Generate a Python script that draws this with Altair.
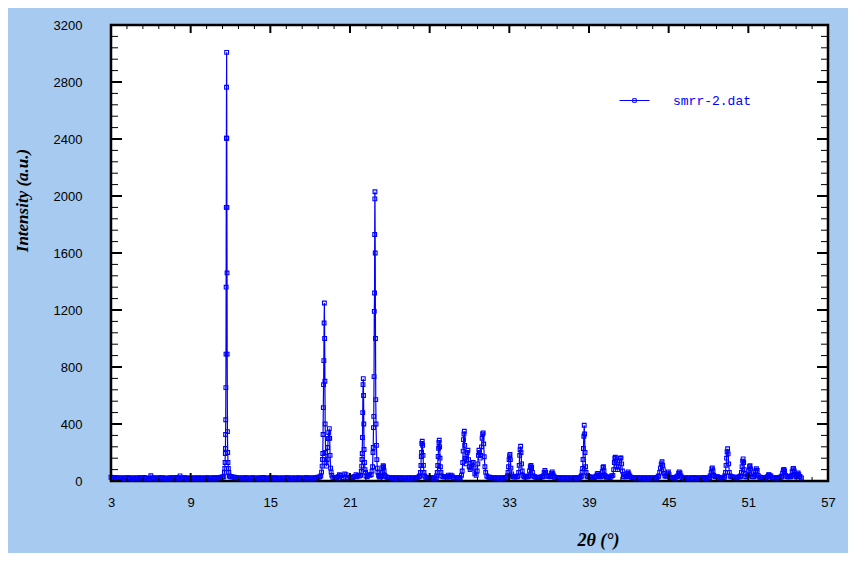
import altair as alt
import pandas as pd

# ---------------- data ----------------
SERIES = "smrr-2.dat"

# baseline scan, 3.0 .. 55.0 deg, every 0.2 deg
BASE_START = 3.0
BASE_STEP = 0.2
BASELINE = [
    26, 22, 19, 24, 20, 18, 23, 21, 19, 22,
    20, 24, 21, 18, 22, 37, 20, 19, 23, 21,
    18, 22, 20, 24, 19, 21, 36, 20, 23, 19,
    22, 20, 18, 23, 21, 19, 24, 20, 22, 21,
    23, 25, 28, 32, 30, 30, 27, 24, 22, 21,
    20, 23, 19, 22, 21, 18, 24, 20, 22, 19,
    21, 19, 23, 20, 22, 18, 21, 24, 19, 22,
    20, 22, 19, 21, 23, 20, 22, 24, 26, 30,
    30, 30, 28, 26, 24, 22, 45, 23, 50, 24,
    25, 24, 28, 40, 30, 30, 35, 45, 40, 30,
    30, 28, 30, 30, 26, 24, 22, 21, 23, 20,
    22, 19, 21, 23, 20, 24, 30, 30, 28, 24,
    21, 23, 20, 25, 30, 30, 30, 26, 41, 24,
    22, 25, 30, 30, 30, 30, 30, 30, 30, 30,
    30, 30, 28, 25, 24, 22, 20, 23, 21, 24,
    30, 30, 28, 30, 30, 30, 28, 30, 30, 30,
    26, 24, 28, 30, 40, 32, 30, 26, 24, 22,
    21, 23, 20, 22, 19, 24, 21, 30, 30, 30,
    30, 26, 24, 28, 30, 30, 30, 28, 24, 40,
    30, 30, 30, 30, 30, 35, 25, 22, 24, 21,
    20, 23, 19, 22, 21, 24, 30, 30, 30, 35,
    28, 25, 23, 30, 30, 24, 20, 22, 19, 23,
    21, 20, 24, 22, 19, 23, 30, 28, 30, 25,
    22, 25, 30, 30, 30, 24, 26, 30, 30, 30,
    30, 30, 30, 30, 28, 24, 22, 26, 40, 24,
    22, 24, 26, 30, 30, 30, 30, 30, 30, 30,
    22,
]
# interleaved baseline scan, 3.1 .. 54.9 deg, every 0.2 deg
BASE_B_START = 3.1
BASELINE_B = [
    18, 25, 21, 17, 23, 20, 24, 19, 22, 20,
    23, 19, 25, 20, 17, 22, 24, 18, 21, 23,
    20, 17, 23, 21, 25, 19, 22, 24, 20, 18,
    19, 24, 21, 17, 22, 20, 23, 18, 24, 20,
    22, 27, 30, 30, 30, 30, 26, 23, 20, 22,
    24, 18, 21, 23, 19, 22, 20, 25, 18, 21,
    20, 23, 18, 22, 19, 24, 21, 17, 22, 20,
    23, 19, 21, 24, 20, 22, 19, 25, 28, 30,
    30, 30, 30, 25, 23, 30, 40, 25, 45, 22,
    27, 30, 35, 35, 30, 30, 30, 40, 35, 30,
    30, 30, 30, 30, 24, 21, 23, 19, 22, 24,
    20, 23, 18, 22, 21, 25, 30, 30, 26, 22,
    24, 19, 22, 21, 30, 30, 30, 28, 35, 22,
    24, 21, 30, 30, 30, 30, 30, 30, 30, 30,
    30, 30, 26, 23, 21, 24, 19, 22, 25, 28,
    30, 30, 30, 30, 30, 30, 30, 26, 30, 30,
    25, 27, 30, 33, 35, 30, 28, 24, 21, 24,
    20, 22, 24, 19, 23, 20, 25, 30, 30, 30,
    28, 24, 30, 30, 30, 30, 30, 26, 35, 30,
    30, 30, 30, 30, 32, 30, 24, 20, 23, 22,
    22, 19, 24, 20, 23, 21, 30, 30, 30, 30,
    26, 24, 21, 30, 28, 22, 23, 20, 24, 21,
    23, 19, 22, 25, 20, 24, 30, 30, 30, 23,
    24, 28, 30, 30, 26, 22, 30, 30, 30, 30,
    30, 30, 30, 30, 26, 23, 20, 30, 35, 22,
    24, 21, 28, 30, 30, 30, 30, 30, 30, 30,
]

# reflections: (2theta, intensity) scan points read around each peak
PEAKS = [
    [(11.50, 30), (11.54, 60), (11.57, 88), (11.59, 130), (11.61, 193), (11.62, 228),
     (11.63, 326), (11.64, 430), (11.65, 655), (11.66, 890), (11.67, 1360), (11.68, 1920),
     (11.69, 2405), (11.70, 2763), (11.71, 3008), (11.72, 2405), (11.73, 1920), (11.74, 1460),
     (11.75, 890), (11.77, 347), (11.79, 200), (11.81, 130), (11.84, 88), (11.87, 60), (11.92, 35)],
    [(18.80, 35), (18.86, 62), (18.90, 104), (18.93, 151), (18.95, 193), (18.97, 326),
     (18.99, 515), (19.01, 676), (19.03, 845), (19.05, 1109), (19.07, 1249), (19.09, 1000),
     (19.11, 700), (19.13, 400), (19.16, 200), (19.20, 130), (19.24, 104), (19.28, 150),
     (19.32, 235), (19.36, 298), (19.40, 340), (19.44, 368), (19.47, 300), (19.50, 180),
     (19.54, 90), (19.58, 62), (19.63, 40)],
    [(21.38, 32), (21.45, 45), (21.52, 30)],
    [(21.80, 40), (21.85, 67), (21.88, 104), (21.90, 151), (21.92, 193), (21.94, 305),
     (21.96, 480), (21.98, 676), (22.00, 718), (22.02, 600), (22.04, 400), (22.06, 221),
     (22.09, 130), (22.13, 80), (22.18, 60)],
    [(22.60, 45), (22.66, 69), (22.70, 100), (22.73, 200), (22.75, 235), (22.77, 375),
     (22.79, 454), (22.81, 733), (22.83, 1190), (22.85, 1319), (22.86, 1730), (22.87, 1980),
     (22.88, 2030), (22.90, 1600), (22.92, 1000), (22.94, 571), (22.96, 400), (22.99, 250),
     (23.02, 150), (23.06, 90), (23.10, 60), (23.15, 40)],
    [(23.38, 35), (23.43, 60), (23.47, 95), (23.50, 108), (23.53, 100), (23.57, 70), (23.62, 40)],
    [(26.25, 35), (26.30, 60), (26.34, 109), (26.37, 172), (26.39, 200), (26.41, 263),
     (26.44, 279), (26.47, 250), (26.50, 180), (26.53, 110), (26.57, 60), (26.62, 35)],
    [(27.52, 35), (27.57, 60), (27.61, 109), (27.64, 172), (27.67, 230), (27.70, 270),
     (27.72, 286), (27.75, 240), (27.78, 160), (27.81, 100), (27.85, 60), (27.90, 35)],
    [(28.33, 30), (28.40, 41), (28.47, 30)],
    [(29.40, 40), (29.45, 70), (29.49, 130), (29.52, 210), (29.55, 290), (29.58, 330),
     (29.61, 349), (29.64, 250), (29.68, 160), (29.73, 120), (29.78, 150), (29.83, 200),
     (29.88, 216), (29.93, 150), (29.98, 100), (30.05, 80), (30.12, 90), (30.20, 120),
     (30.28, 130), (30.34, 90), (30.40, 50)],
    [(30.50, 40), (30.58, 70), (30.63, 120), (30.67, 180), (30.71, 216), (30.75, 200),
     (30.80, 160), (30.85, 180), (30.90, 240), (30.95, 300), (30.99, 330), (31.03, 338),
     (31.07, 260), (31.11, 170), (31.16, 100), (31.22, 60), (31.30, 35)],
    [(32.85, 35), (32.90, 60), (32.94, 100), (32.98, 150), (33.02, 176), (33.05, 186),
     (33.08, 150), (33.12, 90), (33.17, 50), (33.22, 35)],
    [(33.65, 35), (33.70, 60), (33.74, 110), (33.78, 180), (33.81, 220), (33.85, 244),
     (33.88, 200), (33.92, 120), (33.97, 70), (34.03, 40)],
    [(34.45, 35), (34.52, 70), (34.58, 100), (34.63, 109), (34.68, 95), (34.74, 60), (34.80, 35)],
    [(35.55, 35), (35.62, 60), (35.68, 74), (35.74, 60), (35.80, 35)],
    [(36.12, 35), (36.18, 55), (36.23, 64), (36.28, 50), (36.35, 35)],
    [(38.42, 35), (38.48, 62), (38.52, 88), (38.55, 151), (38.58, 228), (38.61, 314),
     (38.64, 391), (38.67, 330), (38.70, 200), (38.74, 100), (38.78, 60), (38.84, 35)],
    [(39.55, 35), (39.62, 50), (39.67, 53), (39.73, 40)],
    [(39.95, 35), (40.00, 65), (40.05, 95), (40.09, 100), (40.13, 70), (40.20, 40)],
    [(40.80, 40), (40.86, 80), (40.91, 130), (40.95, 160), (40.98, 167), (41.02, 140),
     (41.08, 100), (41.15, 80), (41.22, 100), (41.30, 140), (41.36, 160), (41.41, 162),
     (41.46, 120), (41.52, 70), (41.58, 45)],
    [(41.85, 35), (41.91, 55), (41.95, 64), (42.00, 50), (42.06, 35)],
    [(44.25, 35), (44.32, 60), (44.38, 90), (44.44, 120), (44.50, 135), (44.55, 110),
     (44.60, 80), (44.66, 50), (44.72, 35)],
    [(44.88, 35), (44.94, 55), (44.98, 64), (45.03, 45)],
    [(45.68, 35), (45.75, 55), (45.80, 64), (45.86, 55), (45.93, 35)],
    [(48.12, 35), (48.20, 60), (48.25, 85), (48.29, 92), (48.34, 70), (48.40, 40)],
    [(49.22, 35), (49.28, 60), (49.32, 110), (49.36, 160), (49.40, 205), (49.44, 226),
     (49.48, 190), (49.52, 120), (49.57, 60), (49.63, 35)],
    [(50.42, 35), (50.48, 60), (50.53, 100), (50.57, 140), (50.61, 155), (50.65, 130),
     (50.70, 80), (50.76, 50)],
    [(50.98, 40), (51.04, 70), (51.09, 100), (51.13, 107), (51.18, 85), (51.24, 50)],
    [(51.48, 40), (51.55, 70), (51.61, 86), (51.67, 75), (51.74, 40)],
    [(52.45, 30), (52.52, 42), (52.56, 45), (52.62, 35)],
    [(53.52, 35), (53.58, 55), (53.63, 76), (53.68, 81), (53.73, 70), (53.80, 40)],
    [(54.22, 35), (54.30, 65), (54.36, 85), (54.40, 88), (54.46, 70), (54.52, 45)],
    [(54.64, 35), (54.70, 50), (54.75, 57), (54.80, 45), (54.87, 30)],
]

X_MAJOR = [3, 9, 15, 21, 27, 33, 39, 45, 51, 57]
X_MINOR = [round(3 + 1.2 * i, 1) for i in range(46) if i % 5]
Y_MAJOR = [0, 400, 800, 1200, 1600, 2000, 2400, 2800, 3200]
Y_MINOR = [v for v in range(0, 3201, 80) if v % 400]

# ---------------- build table ----------------
ranges = [(min(p[0] for p in c), max(p[0] for p in c)) for c in PEAKS]
rows = []
for start, vals in ((BASE_START, BASELINE), (BASE_B_START, BASELINE_B)):
    for i, v in enumerate(vals):
        x = round(start + BASE_STEP * i, 2)
        if any(lo <= x <= hi for lo, hi in ranges):
            continue
        rows.append((x, v))
for c in PEAKS:
    rows.extend(c)
rows.sort()
df = pd.DataFrame(rows, columns=["tt", "inten"])
df["series"] = SERIES

BLUE = "#0000ff"
W, H = 717, 456
xs = alt.Scale(domain=[3, 57], nice=False, zero=False)
ys = alt.Scale(domain=[0, 3200], nice=False, zero=False)

line = alt.Chart(df).mark_line(strokeWidth=1.2).encode(
    x=alt.X("tt:Q", scale=xs, axis=alt.Axis(
        orient="bottom", values=X_MAJOR, ticks=False, domain=False, grid=False,
        labelFont="Liberation Sans", labelFontSize=13, labelColor="black",
        labelPadding=15, labelFlush=False, labelOverlap=False, format="d",
        title="2θ (°)", titleFont="Liberation Serif", titleFontSize=18,
        titleFontStyle="italic", titleFontWeight="bold", titleColor="black",
        titleX=487, titleY=59, titleAlign="center", titleBaseline="middle")),
    y=alt.Y("inten:Q", scale=ys, axis=alt.Axis(
        orient="left", values=Y_MAJOR, ticks=False, domain=False, grid=False,
        labelFont="Liberation Sans", labelFontSize=13, labelColor="black",
        labelPadding=29, labelFlush=False, labelOverlap=False, format="d",
        title="Intensity (a.u.)", titleFont="Liberation Serif", titleFontSize=17,
        titleFontStyle="italic", titleFontWeight="bold", titleColor="black",
        titleAngle=270, titleX=-89, titleY=175, titleAlign="center",
        titleBaseline="middle")),
    color=alt.Color("series:N", scale=alt.Scale(range=[BLUE]), legend=alt.Legend(
        title=None, orient="none", legendX=508, legendY=60,
        symbolType="M-1,0H1M-0.12,-0.12H0.12V0.12H-0.12Z", symbolSize=900,
        symbolStrokeWidth=1, symbolStrokeColor=BLUE, symbolFillColor="white",
        labelFont="Liberation Mono", labelFontSize=13, labelColor=BLUE,
        labelOffset=23, padding=0)),
)

# other layers share the scales and the single axis defined above
pts = alt.Chart(df).mark_point(shape="square", filled=False, size=14,
                               strokeWidth=1.1, color=BLUE, opacity=1).encode(
    x=alt.X("tt:Q", scale=xs),
    y=alt.Y("inten:Q", scale=ys),
)


def xticks(values, length, width):
    d = pd.DataFrame({"tt": values})
    bottom = alt.Chart(d).mark_rule(color="black", strokeWidth=width).encode(
        x=alt.X("tt:Q", scale=xs),
        y=alt.value(H), y2=alt.value(H - length))
    top = alt.Chart(d).mark_rule(color="black", strokeWidth=width).encode(
        x=alt.X("tt:Q", scale=xs),
        y=alt.value(0), y2=alt.value(length))
    return [bottom, top]


def yticks(values, length, width):
    d = pd.DataFrame({"inten": values})
    left = alt.Chart(d).mark_rule(color="black", strokeWidth=width).encode(
        y=alt.Y("inten:Q", scale=ys),
        x=alt.value(0), x2=alt.value(length))
    right = alt.Chart(d).mark_rule(color="black", strokeWidth=width).encode(
        y=alt.Y("inten:Q", scale=ys),
        x=alt.value(W), x2=alt.value(W - length))
    return [left, right]


tick_layers = (xticks(X_MAJOR, 8, 2) + xticks(X_MINOR, 4, 1)
               + yticks(Y_MAJOR, 11, 2) + yticks(Y_MINOR, 7, 1))

chart = alt.layer(line, pts, *tick_layers).properties(
    width=W, height=H,
    padding={"left": 103, "top": 17, "right": 20, "bottom": 72},
    autosize=alt.AutoSizeParams(type="none"),
    background="#A6CAF0",
).configure_view(stroke="black", strokeWidth=2.5, fill="white")

chart.save("out.html", embed_options={"renderer": "svg", "actions": False})
